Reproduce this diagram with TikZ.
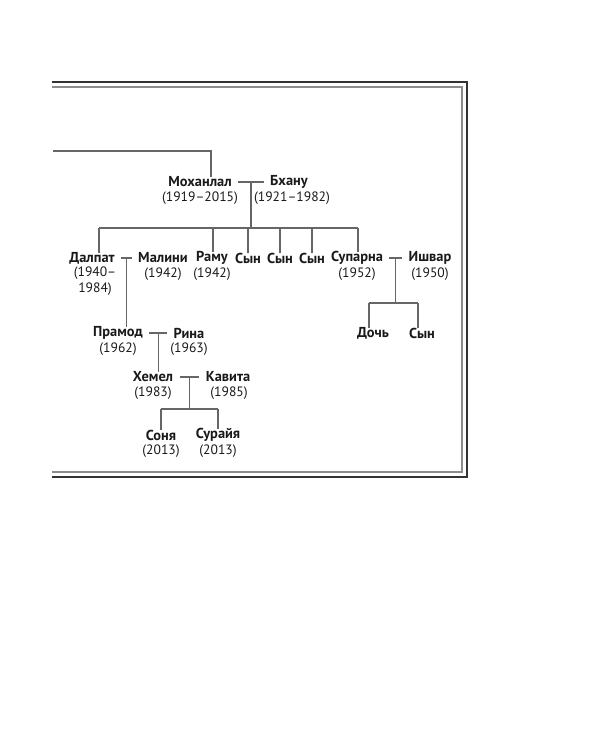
\documentclass[tikz,border=0pt]{standalone}
\usepackage{fontspec}
\setmainfont{PT Sans}
\usepackage{tikz}
\usetikzlibrary{calc}

\begin{document}
\begin{tikzpicture}[x=0.5pt,y=-0.5pt]
		\tikzstyle{line}=[draw=black!60, line width=0.6pt]
		\tikzstyle{spouse}=[line, shorten <=2.5pt, shorten >=2.5pt]
		\tikzstyle{person}=[inner sep=0.5pt, font=\fontsize{7.2}{8}\selectfont\bfseries, text=black!90]
		\tikzstyle{dates}=[inner sep=0.5pt, font=\fontsize{6.8}{8}\selectfont, text=black!90, align=center]
		\useasboundingbox (0,0) rectangle (600,750);

		% Draw the frame
		\draw[black!80, line width=1pt] (52,82) -- (467,82) -- (467,477) -- (52,477);
		\draw[black!45, line width=0.7pt] (52,87) -- (462,87) -- (462,472) -- (52,472);

		% Draw the first couple
		\node[person] (mohan) at (200,182) {Моханлал};
		\node[dates] (mohan-y) at (200,198) {(1919–2015)};
		\node[person] (bhanu) at (289,182) {Бхану};
		\node[dates] (bhanu-y) at (292,198) {(1921–1982)};

		% Draw their children
		\node[person] (dalpat) at (92,258) {Далпат};
		\node[dates] (dalpat-y) at (95,281) {(1940–\\1984)};
		\node[person] (malini) at (163,258) {Малини};
		\node[dates] (malini-y) at (163,274) {(1942)};
		\node[person] (ramu) at (212,258) {Раму};
		\node[dates] (ramu-y) at (212,274) {(1942)};
		\node[person] (son1) at (248,258) {Сын};
		\node[person] (son2) at (280,258) {Сын};
		\node[person] (son3) at (312,258) {Сын};
		\node[person] (suparna) at (357,258) {Супарна};
		\node[dates] (suparna-y) at (357,274) {(1952)};
		\node[person] (ishvar) at (430,258) {Ишвар};
		\node[dates] (ishvar-y) at (430,274) {(1950)};

		% Draw the grandchildren
		\node[person] (pramod) at (118,333) {Прамод};
		\node[dates] (pramod-y) at (118,349) {(1962)};
		\node[person] (rina) at (189,333) {Рина};
		\node[dates] (rina-y) at (189,349) {(1963)};
		\node[person] (doch) at (373,333) {Дочь};
		\node[person] (son4) at (422,333) {Сын};

		% Draw the third and fourth generation
		\node[person] (hemel) at (153,377) {Хемел};
		\node[dates] (hemel-y) at (153,393) {(1983)};
		\node[person] (kavita) at (228,377) {Кавита};
		\node[dates] (kavita-y) at (229,393) {(1985)};
		\node[person] (sonya) at (161,435) {Соня};
		\node[dates] (sonya-y) at (161,451) {(2013)};
		\node[person] (suraya) at (218,435) {Сурайя};
		\node[dates] (suraya-y) at (218,451) {(2013)};

		% Connect the line coming from the left
		\coordinate (from-left) at (53,151);
		\draw[line] (from-left) -| ([xshift=5.5pt,yshift=-1pt]mohan.north);

		% Connect the couples
		\draw[spouse] (mohan.east) -- (bhanu.west);
		\draw[spouse] (dalpat.east) -- (malini.west);
		\draw[spouse] (suparna.east) -- (ishvar.west);
		\draw[spouse] (pramod.east) -- (rina.west);
		\draw[spouse] (hemel.east) -- (kavita.west);
		\coordinate (u1) at ($(mohan.east)!.5!(bhanu.west)$);
		\coordinate (u2) at ($(dalpat.east)!.5!(malini.west)$);
		\coordinate (u3) at ($(suparna.east)!.5!(ishvar.west)$);
		\coordinate (u4) at ($(pramod.east)!.5!(rina.west)$);
		\coordinate (u5) at ($(hemel.east)!.5!(kavita.west)$);

		% Connect the children of Моханлал and Бхану
		\coordinate (bar1) at (0,228);
		\draw[line] (u1) -- (u1 |- bar1);
		\draw[line] ([xshift=3.5pt]dalpat.north |- bar1) -- ([xshift=.5pt]suparna.north |- bar1);
		\foreach \kid/\dx in {dalpat/3.5pt,ramu/.5pt,son1/0pt,son2/0pt,son3/0pt,suparna/.5pt}
		\draw[line] ([xshift=\dx,yshift=-1pt]\kid.north) -- ([xshift=\dx]\kid.north |- bar1);

		% Connect the children of Супарна and Ишвар
		\coordinate (bar2) at (0,303);
		\draw[line] (u3) -- (u3 |- bar2);
		\draw[line] ([xshift=-2pt]doch.north |- bar2) -- ([xshift=-2pt]son4.north |- bar2);
		\foreach \kid in {doch,son4}
		\draw[line] ([xshift=-2pt,yshift=-1pt]\kid.north) -- ([xshift=-2pt]\kid.north |- bar2);

		% Connect the single lines down
		\draw[line] (u2) -- ([yshift=-1pt]u2 |- pramod.north);
		\draw[line] (u4) -- ([yshift=-1pt]u4 |- hemel.north);

		% Connect the children of Хемел and Кавита
		\coordinate (bar3) at (0,409);
		\draw[line] (u5) -- (u5 |- bar3);
		\draw[line] (sonya.north |- bar3) -- (suraya.north |- bar3);
		\foreach \kid in {sonya,suraya}
		\draw[line] ([yshift=-1pt]\kid.north) -- (\kid.north |- bar3);

	\end{tikzpicture}
\end{document}
